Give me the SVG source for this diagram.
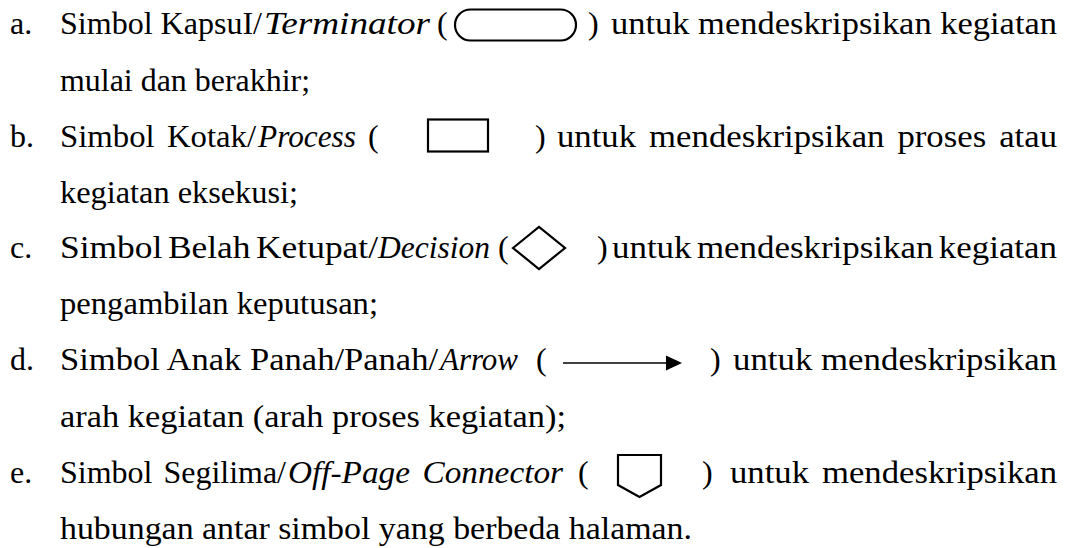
<svg xmlns="http://www.w3.org/2000/svg" width="1071" height="548" viewBox="0 0 1071 548">
<style>
text{font-family:"Liberation Serif","DejaVu Serif",serif;font-size:32px;fill:#000}
.i{font-style:italic}
.sym{fill:none;stroke:#000;stroke-width:2.2}
</style>
<rect width="1071" height="548" fill="#fff"/>
<g id="item-a">
<text x="10" y="34">a.</text>
<text x="60" y="34" textLength="202" lengthAdjust="spacingAndGlyphs">Simbol KapsuI/</text>
<text class="i" x="264" y="34" textLength="166" lengthAdjust="spacingAndGlyphs">Terminator</text>
<text x="437" y="34">(</text>
<rect class="sym" x="455" y="9.5" width="121" height="31" rx="15.5"/>
<text x="588" y="34">)</text>
<text x="611" y="34" textLength="446" lengthAdjust="spacingAndGlyphs">untuk mendeskripsikan kegiatan</text>
<text x="60" y="91" textLength="250" lengthAdjust="spacingAndGlyphs">mulai dan berakhir;</text>
</g>
<g id="item-b">
<text x="10" y="147">b.</text>
<text x="60" y="147" word-spacing="4" textLength="196" lengthAdjust="spacingAndGlyphs">Simbol Kotak/</text>
<text class="i" x="258" y="147" textLength="98" lengthAdjust="spacingAndGlyphs">Process</text>
<text x="368" y="147">(</text>
<rect class="sym" x="428" y="119.5" width="60" height="32"/>
<text x="535" y="147">)</text>
<text x="557" y="147" word-spacing="4" textLength="500" lengthAdjust="spacingAndGlyphs">untuk mendeskripsikan proses atau</text>
<text x="60" y="203" textLength="238" lengthAdjust="spacingAndGlyphs">kegiatan eksekusi;</text>
</g>
<g id="item-c">
<text x="10" y="258">c.</text>
<text x="60" y="258" word-spacing="-3" textLength="318" lengthAdjust="spacingAndGlyphs">Simbol Belah Ketupat/</text>
<text class="i" x="378" y="258" textLength="112" lengthAdjust="spacingAndGlyphs">Decision</text>
<text x="498" y="258">(</text>
<polygon class="sym" points="513,248 539,227 565,248 539,269"/>
<text x="597" y="258">)</text>
<text x="612" y="258" word-spacing="-3" textLength="445" lengthAdjust="spacingAndGlyphs">untuk mendeskripsikan kegiatan</text>
<text x="60" y="314" textLength="318" lengthAdjust="spacingAndGlyphs">pengambilan keputusan;</text>
</g>
<g id="item-d">
<text x="10" y="370">d.</text>
<text x="60" y="370" textLength="378" lengthAdjust="spacingAndGlyphs">Simbol Anak Panah/Panah/</text>
<text class="i" x="440" y="370" textLength="78" lengthAdjust="spacingAndGlyphs">Arrow</text>
<text x="536" y="370">(</text>
<line x1="563" y1="363" x2="668" y2="363" stroke="#000" stroke-width="1.5"/>
<polygon points="666,355.5 682,363 666,370.5" fill="#000"/>
<text x="710" y="370">)</text>
<text x="733" y="370" textLength="324" lengthAdjust="spacingAndGlyphs">untuk mendeskripsikan</text>
<text x="60" y="427" textLength="506" lengthAdjust="spacingAndGlyphs">arah kegiatan (arah proses kegiatan);</text>
</g>
<g id="item-e">
<text x="10" y="483">e.</text>
<text x="60" y="483" word-spacing="3" textLength="226" lengthAdjust="spacingAndGlyphs">Simbol Segilima/</text>
<text class="i" x="288" y="483" word-spacing="4" textLength="275" lengthAdjust="spacingAndGlyphs">Off-Page Connector</text>
<text x="578" y="483">(</text>
<polygon class="sym" points="618,455 661,455 661,485 639.5,497 618,485"/>
<text x="702" y="483">)</text>
<text x="730" y="483" word-spacing="4" textLength="327" lengthAdjust="spacingAndGlyphs">untuk mendeskripsikan</text>
<text x="60" y="539" textLength="632" lengthAdjust="spacingAndGlyphs">hubungan antar simbol yang berbeda halaman.</text>
</g>
</svg>
